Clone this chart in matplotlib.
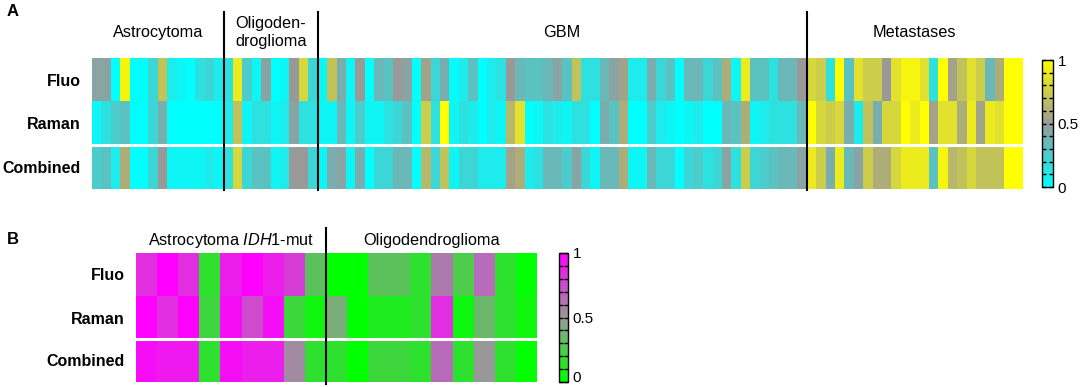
import numpy as np
import matplotlib.pyplot as plt
from matplotlib.colors import LinearSegmentedColormap
from matplotlib.ticker import MultipleLocator

plt.rcParams['font.family'] = ['Liberation Sans', 'DejaVu Sans']
plt.rcParams['mathtext.fontset'] = 'custom'
plt.rcParams['mathtext.rm'] = 'Liberation Sans'
plt.rcParams['mathtext.it'] = 'Liberation Sans:italic'

rows = ['Fluo', 'Raman', 'Combined']

# ---- panel A data (one list per group and row) ----
groups_a = ['Astrocytoma', 'Oligoden-\ndroglioma', 'GBM', 'Metastases']
astro_fluo = [0.45, 0.45, 0, 0.95, 0, 0, 0.2, 0.7, 0.1, 0.05, 0, 0.15, 0.2, 0.1]
astro_raman = [0.05, 0.15, 0.25, 0.3, 0, 0, 0.2, 0.4, 0, 0, 0, 0, 0, 0]
astro_comb = [0.25, 0.3, 0.1, 0.6, 0, 0, 0.2, 0.5, 0.05, 0.05, 0.05, 0.05, 0.1, 0.05]

oligo_fluo = [0.15, 0.9, 0.25, 0.05, 0.45, 0, 0.05, 0.5, 0.8, 0.2]
oligo_raman = [0.1, 0.7, 0.05, 0.15, 0.15, 0.05, 0.1, 0.45, 0.15, 0.15]
oligo_comb = [0.15, 0.8, 0.2, 0.3, 0.3, 0.05, 0.1, 0.5, 0.5, 0.2]

gbm_fluo = [0.05, 0.7, 0.4, 0.05, 0.5, 0, 0.35, 0.3, 0.5, 0.45, 0, 0.55, 0.2,
            0.4, 0.02, 0.1, 0.3, 0, 0.1, 0.15, 0.5, 0.35, 0.3, 0.3, 0.35, 0.45,
            0.3, 0.7, 0.15, 0.15, 0.35, 0.45, 0.55, 0.1, 0.1, 0.4, 0.2, 0.3, 0,
            0.35, 0.35, 0.2, 0.3, 0.6, 0.05, 0.9, 0.3, 0.3, 0.15, 0.35, 0.35, 0.5]
gbm_raman = [0.05, 0.05, 0.35, 0.05, 0.25, 0.05, 0.05, 0.15, 0.2, 0.3, 0, 0.75,
             0.15, 1.0, 0.05, 0.15, 0.1, 0, 0.1, 0.05, 0.65, 0.85, 0, 0.05, 0.15,
             0.1, 0.05, 0.15, 0.15, 0, 0.4, 0.3, 0.6, 0, 0, 0.25, 0.1, 0.05, 0,
             0.05, 0.1, 0, 0, 0.35, 0.3, 0.6, 0.05, 0.1, 0.15, 0.15, 0.15, 0.35]
gbm_comb = [0.05, 0.4, 0.45, 0.05, 0.4, 0, 0.2, 0.2, 0.35, 0.35, 0, 0.65, 0.2,
            0.7, 0.05, 0.2, 0.2, 0.1, 0.1, 0.1, 0.55, 0.6, 0.1, 0.15, 0.35, 0.35,
            0.25, 0.45, 0.2, 0.05, 0.35, 0.35, 0.6, 0.05, 0.05, 0.35, 0.2, 0.2, 0,
            0.2, 0.25, 0.15, 0.2, 0.45, 0.15, 0.75, 0.2, 0.25, 0.3, 0.35, 0.35, 0.45]

meta_fluo = [0.8, 0.75, 0.15, 1.0, 0.3, 0.85, 0.75, 0.75, 0.5, 0.85, 0.95, 0.95,
             0.85, 0.15, 1.0, 0.55, 0.7, 0.85, 0.75, 0.35, 0.6, 1.0, 1.0]
meta_raman = [1.0, 0.8, 0.75, 0.8, 0.4, 0.1, 0.7, 0.4, 0.8, 0.8, 1.0, 0.9, 1.0,
              0.55, 0.85, 0.85, 0.6, 0.9, 0.55, 0.9, 0.85, 1.0, 1.0]
meta_comb = [0.9, 0.75, 0.4, 0.9, 0.35, 0.45, 0.75, 0.6, 0.6, 0.8, 0.9, 0.9, 0.9,
             0.3, 0.95, 0.65, 0.7, 0.8, 0.7, 0.7, 0.7, 1.0, 1.0]

# ---- panel B data ----
groups_b = ['Astrocytoma $\\mathit{IDH1}$-mut', 'Oligodendroglioma']
idh_fluo = [0.85, 1.0, 0.85, 0.15, 0.9, 1.0, 0.9, 0.8, 0.3]
idh_raman = [1.0, 0.85, 1.0, 0.2, 0.95, 0.75, 0.95, 0.2, 0.05]
idh_comb = [0.95, 0.92, 0.92, 0.15, 0.95, 0.9, 0.9, 0.55, 0.15]

odg_fluo = [0.0, 0.0, 0.3, 0.3, 0.15, 0.6, 0.25, 0.65, 0.15, 0.0]
odg_raman = [0.4, 0.0, 0.1, 0.1, 0.15, 0.85, 0.05, 0.35, 0.15, 0.05]
odg_comb = [0.15, 0.0, 0.2, 0.2, 0.15, 0.65, 0.15, 0.5, 0.15, 0.0]

cmap_a = LinearSegmentedColormap.from_list(
    'cgy', [(0, (0, 1, 1)), (0.5, (0.6, 0.6, 0.6)), (1, (1, 1, 0))])
cmap_b = LinearSegmentedColormap.from_list(
    'ggm', [(0, (0, 1, 0)), (0.5, (0.6, 0.6, 0.6)), (1, (1, 0, 1))])

W, H = 1084, 387
fig = plt.figure(figsize=(W / 100, H / 100), dpi=100)


def box(x0, y0, x1, y1):
    # pixel box (top-left origin) -> figure fraction rect
    return [x0 / W, 1 - y1 / H, (x1 - x0) / W, (y1 - y0) / H]


def heat(ax, cax, data, sizes, cmap, labels, line_top, label_y, fs=11.7):
    n = data.shape[1]
    mesh = ax.pcolormesh(np.arange(n + 1), np.arange(4), data, cmap=cmap,
                         vmin=0, vmax=1)
    ax.set_xlim(0, n)
    ax.set_ylim(3, 0)
    ax.axhline(2, color='white', lw=2.2)
    for s in ax.spines.values():
        s.set_visible(False)
    ax.set_xticks([])
    ax.set_yticks([0.5, 1.5, 2.5])
    ax.set_yticklabels(rows, fontweight='bold', fontsize=11.5)
    ax.tick_params(axis='y', length=0, pad=8)
    edges = np.cumsum([0] + sizes)
    for e in edges[1:-1]:
        ax.axvline(e, ymin=-0.012, ymax=line_top, color='black', lw=1.5,
                   clip_on=False)
    for lab, a, b in zip(labels, edges[:-1], edges[1:]):
        ax.text((a + b) / 2, label_y, lab, transform=ax.get_xaxis_transform(),
                ha='center', va='center', fontsize=fs, linespacing=1.25)
    cb = fig.colorbar(mesh, cax=cax, ticks=[0, 0.5, 1])
    cb.ax.set_yticklabels(['0', '0.5', '1'], fontsize=11)
    cb.ax.yaxis.set_minor_locator(MultipleLocator(0.1))
    cb.ax.tick_params(which='both', direction='in', left=True, right=True,
                      length=3, width=1, color='black')
    cb.outline.set_linewidth(1)
    return cb


data_a = np.array([astro_fluo + oligo_fluo + gbm_fluo + meta_fluo,
                   astro_raman + oligo_raman + gbm_raman + meta_raman,
                   astro_comb + oligo_comb + gbm_comb + meta_comb])
sizes_a = [len(astro_fluo), len(oligo_fluo), len(gbm_fluo), len(meta_fluo)]

axA = fig.add_axes(box(92, 57.7, 1023, 188.5))
caxA = fig.add_axes(box(1042, 60, 1053, 187))
heat(axA, caxA, data_a, sizes_a, cmap_a, groups_a, 1.35, 1.195)

data_b = np.array([idh_fluo + odg_fluo, idh_raman + odg_raman,
                   idh_comb + odg_comb])
sizes_b = [len(idh_fluo), len(odg_fluo)]

axB = fig.add_axes(box(136, 253, 537, 382))
caxB = fig.add_axes(box(559, 253, 568, 382))
cbB = heat(axB, caxB, data_b, sizes_b, cmap_b, groups_b, 1.19, 1.10)
cbB.ax.get_yticklabels()[0].set_va('baseline')

fig.text(7 / W, 1 - 12 / H, 'A', fontsize=12, fontweight='bold', va='center')
fig.text(7 / W, 1 - 240 / H, 'B', fontsize=12, fontweight='bold', va='center')

fig.savefig('out.png', dpi=100)
